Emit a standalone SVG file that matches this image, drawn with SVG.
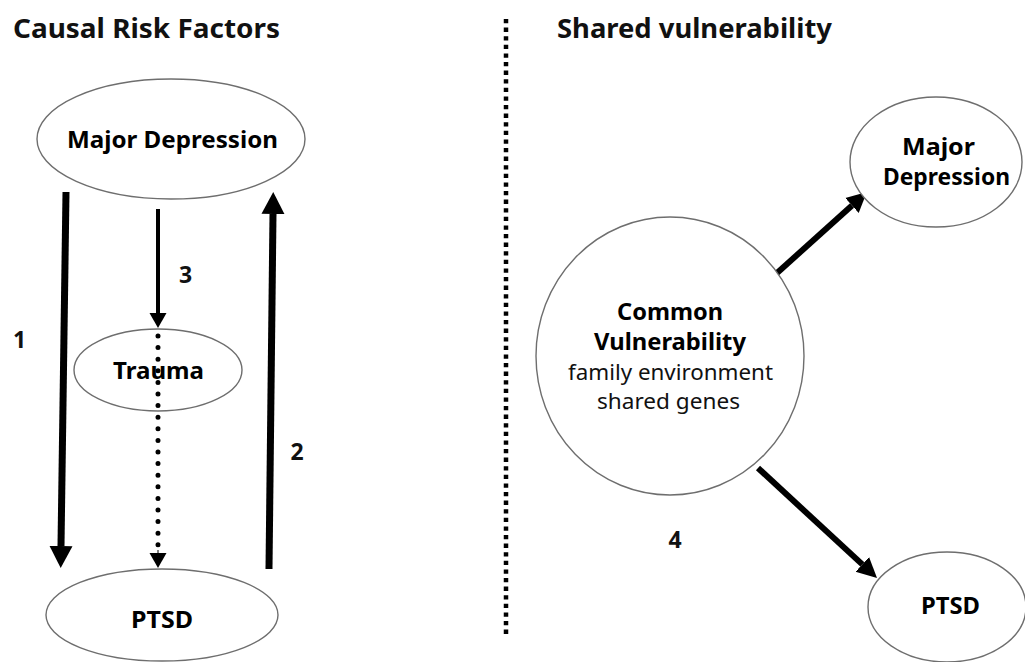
<svg xmlns="http://www.w3.org/2000/svg" width="1025" height="662" viewBox="0 0 1025 662">
<style>
.node{fill:#fff;stroke:#6e6e6e;stroke-width:1.4}
.t{font-family:"Noto Sans","DejaVu Sans",sans-serif;font-weight:bold;fill:#000;text-anchor:middle;font-size:24px}
.title{font-family:"Noto Sans","DejaVu Sans",sans-serif;font-weight:bold;fill:#111;font-size:26px}
.lbl{font-family:"Noto Sans","DejaVu Sans",sans-serif;font-weight:bold;fill:#111;font-size:23px;text-anchor:middle}
.reg{font-family:"Noto Sans","DejaVu Sans",sans-serif;fill:#111;font-size:22.5px;text-anchor:middle}
.big{stroke:#000;stroke-width:7;fill:none}
.small{stroke:#000;stroke-width:4;fill:none}
.dots{stroke:#000;stroke-width:5;stroke-linecap:round;stroke-dasharray:0 11.6;fill:none}
.diag{stroke:#000;stroke-width:6;fill:none}
</style>
<defs>
<marker id="hBig" markerUnits="userSpaceOnUse" markerWidth="24" markerHeight="24" refX="0" refY="12" orient="auto" viewBox="0 0 24 24"><path d="M0,0.5 L22,12 L0,23.5 Z" fill="#000"/></marker>
<marker id="hSmall" markerUnits="userSpaceOnUse" markerWidth="18" markerHeight="18" refX="0" refY="9" orient="auto" viewBox="0 0 18 18"><path d="M0,0.5 L15,9 L0,17.5 Z" fill="#000"/></marker>
<marker id="hMid" markerUnits="userSpaceOnUse" markerWidth="22" markerHeight="22" refX="0" refY="11" orient="auto" viewBox="0 0 22 22"><path d="M0,1 L20,11 L0,21 Z" fill="#000"/></marker>
</defs>

<g id="titles">
<text class="title" x="13" y="38" textLength="267" lengthAdjust="spacingAndGlyphs">Causal Risk Factors</text>
<text class="title" x="557" y="38" textLength="275" lengthAdjust="spacingAndGlyphs">Shared vulnerability</text>
</g>

<g id="separator">
<line x1="506" y1="19" x2="506" y2="634" stroke="#000" stroke-width="4.5" stroke-dasharray="4.3 4.3"/>
</g>

<g id="connectors">
<line class="big" x1="66" y1="192" x2="61" y2="546" marker-end="url(#hBig)"/>
<line class="big" x1="269" y1="569" x2="273" y2="214" marker-end="url(#hBig)"/>
<line class="small" x1="158" y1="209" x2="158" y2="313" marker-end="url(#hSmall)"/>
<line class="diag" x1="777" y1="273" x2="852" y2="205.5" marker-end="url(#hMid)"/>
<line class="diag" x1="758" y1="468" x2="862.3" y2="564.4" marker-end="url(#hMid)"/>
</g>

<g id="node-md-left">
<ellipse class="node" cx="171" cy="139" rx="134" ry="60"/>
<text class="t" x="172.5" y="148" textLength="211" lengthAdjust="spacingAndGlyphs">Major Depression</text>
</g>
<g id="node-trauma">
<ellipse class="node" cx="158" cy="370" rx="84" ry="41"/>
<text class="t" x="158.5" y="379" textLength="91" lengthAdjust="spacingAndGlyphs">Trauma</text>
</g>
<g id="node-ptsd-left">
<ellipse class="node" cx="162" cy="615" rx="116" ry="46"/>
<text class="t" x="162" y="628" textLength="62" lengthAdjust="spacingAndGlyphs">PTSD</text>
</g>

<g id="connector-dotted">
<line class="dots" x1="158" y1="336" x2="158" y2="546"/>
<line x1="158" y1="550" x2="158" y2="553" stroke="#000" stroke-width="1" marker-end="url(#hSmall)"/>
</g>

<g id="node-common">
<ellipse class="node" cx="670" cy="356" rx="134" ry="139"/>
<text class="t" x="670" y="320" textLength="106" lengthAdjust="spacingAndGlyphs">Common</text>
<text class="t" x="670" y="350" textLength="152" lengthAdjust="spacingAndGlyphs">Vulnerability</text>
<text class="reg" x="670.5" y="380" textLength="205" lengthAdjust="spacingAndGlyphs">family environment</text>
<text class="reg" x="668.5" y="409" textLength="143" lengthAdjust="spacingAndGlyphs">shared genes</text>
</g>
<g id="node-md-right">
<ellipse class="node" cx="936" cy="162" rx="86" ry="65"/>
<text class="t" x="938.5" y="155" textLength="73" lengthAdjust="spacingAndGlyphs">Major</text>
<text class="t" x="946.5" y="185" textLength="127" lengthAdjust="spacingAndGlyphs">Depression</text>
</g>
<g id="node-ptsd-right">
<ellipse class="node" cx="947" cy="607" rx="79" ry="55"/>
<text class="t" x="950.5" y="614" textLength="59" lengthAdjust="spacingAndGlyphs">PTSD</text>
</g>

<g id="labels">
<text class="lbl" x="19.5" y="348">1</text>
<text class="lbl" x="297" y="460">2</text>
<text class="lbl" x="185.5" y="283">3</text>
<text class="lbl" x="675" y="548">4</text>
</g>
</svg>
